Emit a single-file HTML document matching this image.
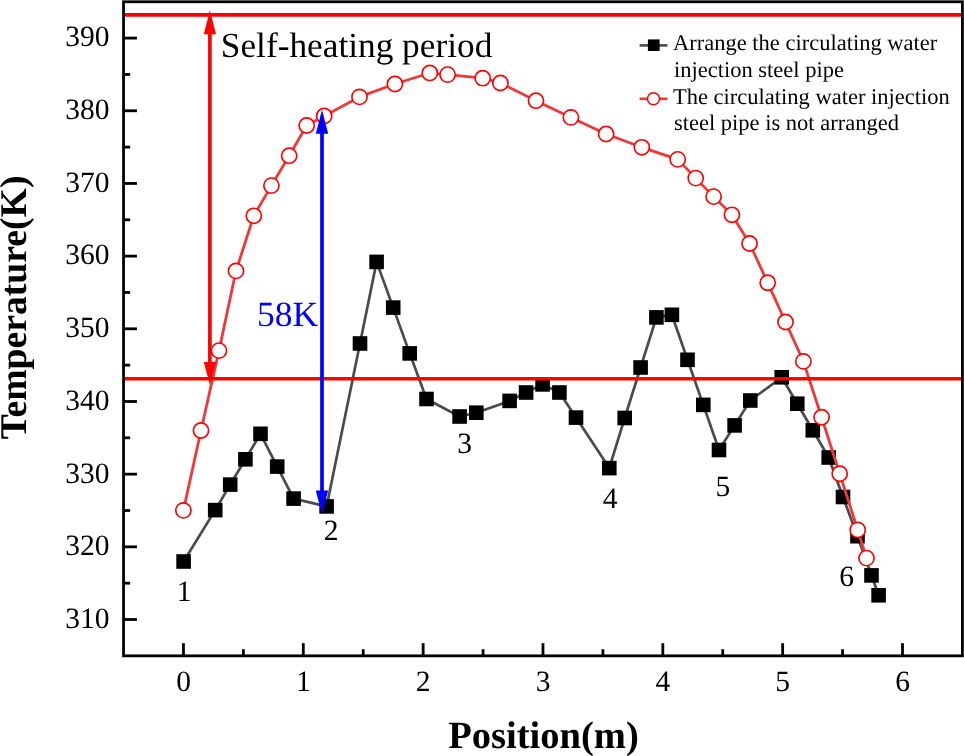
<!DOCTYPE html><html><head><meta charset="utf-8"><style>html,body{margin:0;padding:0;background:#fff;}svg{display:block;will-change:transform;}text{font-family:"Liberation Serif",serif;text-rendering:geometricPrecision;}</style></head><body>
<svg width="964" height="756" viewBox="0 0 964 756">
<rect width="964" height="756" fill="#fff"/>
<polyline points="183.6,561.5 215.2,510.1 230.2,484.6 245.4,459.3 260.5,433.8 277.2,466.6 293.6,498.6 326.6,506.4 360.0,343.5 376.6,261.9 393.2,307.6 409.7,353.4 426.5,399.0 459.6,416.5 476.3,412.7 509.6,400.9 526.1,392.5 542.6,384.4 559.4,392.5 576.0,417.6 609.3,468.1 624.7,418.0 640.6,367.5 656.4,317.4 671.9,314.8 687.5,359.8 703.3,404.9 719.0,450.0 734.6,425.4 750.3,400.5 781.7,377.3 797.3,403.7 812.8,430.3 828.7,457.5 843.0,497.0 857.5,536.2 871.5,575.4 878.6,595.3" fill="none" stroke="#4b4b4b" stroke-width="2.7" stroke-linejoin="round"/>
<rect x="176.30" y="554.20" width="14.6" height="14.6" fill="#000"/>
<rect x="207.90" y="502.80" width="14.6" height="14.6" fill="#000"/>
<rect x="222.90" y="477.30" width="14.6" height="14.6" fill="#000"/>
<rect x="238.10" y="452.00" width="14.6" height="14.6" fill="#000"/>
<rect x="253.20" y="426.50" width="14.6" height="14.6" fill="#000"/>
<rect x="269.90" y="459.30" width="14.6" height="14.6" fill="#000"/>
<rect x="286.30" y="491.30" width="14.6" height="14.6" fill="#000"/>
<rect x="319.30" y="499.10" width="14.6" height="14.6" fill="#000"/>
<rect x="352.70" y="336.20" width="14.6" height="14.6" fill="#000"/>
<rect x="369.30" y="254.60" width="14.6" height="14.6" fill="#000"/>
<rect x="385.90" y="300.30" width="14.6" height="14.6" fill="#000"/>
<rect x="402.40" y="346.10" width="14.6" height="14.6" fill="#000"/>
<rect x="419.20" y="391.70" width="14.6" height="14.6" fill="#000"/>
<rect x="452.30" y="409.20" width="14.6" height="14.6" fill="#000"/>
<rect x="469.00" y="405.40" width="14.6" height="14.6" fill="#000"/>
<rect x="502.30" y="393.60" width="14.6" height="14.6" fill="#000"/>
<rect x="518.80" y="385.20" width="14.6" height="14.6" fill="#000"/>
<rect x="535.30" y="377.10" width="14.6" height="14.6" fill="#000"/>
<rect x="552.10" y="385.20" width="14.6" height="14.6" fill="#000"/>
<rect x="568.70" y="410.30" width="14.6" height="14.6" fill="#000"/>
<rect x="602.00" y="460.80" width="14.6" height="14.6" fill="#000"/>
<rect x="617.40" y="410.70" width="14.6" height="14.6" fill="#000"/>
<rect x="633.30" y="360.20" width="14.6" height="14.6" fill="#000"/>
<rect x="649.10" y="310.10" width="14.6" height="14.6" fill="#000"/>
<rect x="664.60" y="307.50" width="14.6" height="14.6" fill="#000"/>
<rect x="680.20" y="352.50" width="14.6" height="14.6" fill="#000"/>
<rect x="696.00" y="397.60" width="14.6" height="14.6" fill="#000"/>
<rect x="711.70" y="442.70" width="14.6" height="14.6" fill="#000"/>
<rect x="727.30" y="418.10" width="14.6" height="14.6" fill="#000"/>
<rect x="743.00" y="393.20" width="14.6" height="14.6" fill="#000"/>
<rect x="774.40" y="370.00" width="14.6" height="14.6" fill="#000"/>
<rect x="790.00" y="396.40" width="14.6" height="14.6" fill="#000"/>
<rect x="805.50" y="423.00" width="14.6" height="14.6" fill="#000"/>
<rect x="821.40" y="450.20" width="14.6" height="14.6" fill="#000"/>
<rect x="835.70" y="489.70" width="14.6" height="14.6" fill="#000"/>
<rect x="850.20" y="528.90" width="14.6" height="14.6" fill="#000"/>
<rect x="864.20" y="568.10" width="14.6" height="14.6" fill="#000"/>
<rect x="871.30" y="588.00" width="14.6" height="14.6" fill="#000"/>
<polyline points="183.4,510.4 201.0,430.5 219.0,350.6 236.0,270.9 253.8,215.8 271.4,185.6 289.2,155.7 306.7,125.5 324.2,116.0 359.5,96.9 394.9,84.0 429.8,73.0 447.6,74.6 482.7,78.2 500.4,83.0 536.0,100.7 570.9,117.4 606.1,134.0 641.8,147.3 677.7,159.4 695.7,178.1 713.6,196.6 731.9,214.8 749.6,243.5 767.7,282.7 785.5,322.0 803.4,361.4 821.6,417.3 839.7,473.7 857.7,529.9 866.5,558.1" fill="none" stroke="#ef3838" stroke-width="2.8" stroke-linejoin="round"/>
<circle cx="183.4" cy="510.4" r="7.6" fill="#fff" stroke="#ff0000" stroke-width="1.65"/>
<circle cx="201.0" cy="430.5" r="7.6" fill="#fff" stroke="#ff0000" stroke-width="1.65"/>
<circle cx="219.0" cy="350.6" r="7.6" fill="#fff" stroke="#ff0000" stroke-width="1.65"/>
<circle cx="236.0" cy="270.9" r="7.6" fill="#fff" stroke="#ff0000" stroke-width="1.65"/>
<circle cx="253.8" cy="215.8" r="7.6" fill="#fff" stroke="#ff0000" stroke-width="1.65"/>
<circle cx="271.4" cy="185.6" r="7.6" fill="#fff" stroke="#ff0000" stroke-width="1.65"/>
<circle cx="289.2" cy="155.7" r="7.6" fill="#fff" stroke="#ff0000" stroke-width="1.65"/>
<circle cx="306.7" cy="125.5" r="7.6" fill="#fff" stroke="#ff0000" stroke-width="1.65"/>
<circle cx="324.2" cy="116.0" r="7.6" fill="#fff" stroke="#ff0000" stroke-width="1.65"/>
<circle cx="359.5" cy="96.9" r="7.6" fill="#fff" stroke="#ff0000" stroke-width="1.65"/>
<circle cx="394.9" cy="84.0" r="7.6" fill="#fff" stroke="#ff0000" stroke-width="1.65"/>
<circle cx="429.8" cy="73.0" r="7.6" fill="#fff" stroke="#ff0000" stroke-width="1.65"/>
<circle cx="447.6" cy="74.6" r="7.6" fill="#fff" stroke="#ff0000" stroke-width="1.65"/>
<circle cx="482.7" cy="78.2" r="7.6" fill="#fff" stroke="#ff0000" stroke-width="1.65"/>
<circle cx="500.4" cy="83.0" r="7.6" fill="#fff" stroke="#ff0000" stroke-width="1.65"/>
<circle cx="536.0" cy="100.7" r="7.6" fill="#fff" stroke="#ff0000" stroke-width="1.65"/>
<circle cx="570.9" cy="117.4" r="7.6" fill="#fff" stroke="#ff0000" stroke-width="1.65"/>
<circle cx="606.1" cy="134.0" r="7.6" fill="#fff" stroke="#ff0000" stroke-width="1.65"/>
<circle cx="641.8" cy="147.3" r="7.6" fill="#fff" stroke="#ff0000" stroke-width="1.65"/>
<circle cx="677.7" cy="159.4" r="7.6" fill="#fff" stroke="#ff0000" stroke-width="1.65"/>
<circle cx="695.7" cy="178.1" r="7.6" fill="#fff" stroke="#ff0000" stroke-width="1.65"/>
<circle cx="713.6" cy="196.6" r="7.6" fill="#fff" stroke="#ff0000" stroke-width="1.65"/>
<circle cx="731.9" cy="214.8" r="7.6" fill="#fff" stroke="#ff0000" stroke-width="1.65"/>
<circle cx="749.6" cy="243.5" r="7.6" fill="#fff" stroke="#ff0000" stroke-width="1.65"/>
<circle cx="767.7" cy="282.7" r="7.6" fill="#fff" stroke="#ff0000" stroke-width="1.65"/>
<circle cx="785.5" cy="322.0" r="7.6" fill="#fff" stroke="#ff0000" stroke-width="1.65"/>
<circle cx="803.4" cy="361.4" r="7.6" fill="#fff" stroke="#ff0000" stroke-width="1.65"/>
<circle cx="821.6" cy="417.3" r="7.6" fill="#fff" stroke="#ff0000" stroke-width="1.65"/>
<circle cx="839.7" cy="473.7" r="7.6" fill="#fff" stroke="#ff0000" stroke-width="1.65"/>
<circle cx="857.7" cy="529.9" r="7.6" fill="#fff" stroke="#ff0000" stroke-width="1.65"/>
<circle cx="866.5" cy="558.1" r="7.6" fill="#fff" stroke="#ff0000" stroke-width="1.65"/>
<line x1="123.5" y1="14.9" x2="962.4" y2="14.9" stroke="#ff0000" stroke-width="3.6"/>
<line x1="123.5" y1="378.7" x2="962.4" y2="378.7" stroke="#ff0000" stroke-width="3.6"/>
<line x1="209.9" y1="33.3" x2="209.9" y2="363" stroke="#ff0000" stroke-width="3.7"/><polygon points="209.9,10.3 203.8,34.3 216.0,34.3" fill="#ff0000"/><polygon points="209.9,385 203.8,362 216.0,362" fill="#ff0000"/>
<line x1="322.0" y1="132.7" x2="322.0" y2="491.6" stroke="#0000ff" stroke-width="3.7"/><polygon points="322.0,109.7 315.8,133.7 328.2,133.7" fill="#0000ff"/><polygon points="322.0,514.6 315.8,490.6 328.2,490.6" fill="#0000ff"/>
<rect x="123.54" y="1.76" width="838.88" height="654.07" fill="none" stroke="#000" stroke-width="2.8"/>
<line x1="123.54" y1="619.50" x2="136.94" y2="619.50" stroke="#000" stroke-width="2.8"/>
<line x1="123.54" y1="583.16" x2="130.14" y2="583.16" stroke="#000" stroke-width="2.8"/>
<line x1="123.54" y1="546.83" x2="136.94" y2="546.83" stroke="#000" stroke-width="2.8"/>
<line x1="123.54" y1="510.49" x2="130.14" y2="510.49" stroke="#000" stroke-width="2.8"/>
<line x1="123.54" y1="474.15" x2="136.94" y2="474.15" stroke="#000" stroke-width="2.8"/>
<line x1="123.54" y1="437.81" x2="130.14" y2="437.81" stroke="#000" stroke-width="2.8"/>
<line x1="123.54" y1="401.48" x2="136.94" y2="401.48" stroke="#000" stroke-width="2.8"/>
<line x1="123.54" y1="365.14" x2="130.14" y2="365.14" stroke="#000" stroke-width="2.8"/>
<line x1="123.54" y1="328.80" x2="136.94" y2="328.80" stroke="#000" stroke-width="2.8"/>
<line x1="123.54" y1="292.46" x2="130.14" y2="292.46" stroke="#000" stroke-width="2.8"/>
<line x1="123.54" y1="256.12" x2="136.94" y2="256.12" stroke="#000" stroke-width="2.8"/>
<line x1="123.54" y1="219.79" x2="130.14" y2="219.79" stroke="#000" stroke-width="2.8"/>
<line x1="123.54" y1="183.45" x2="136.94" y2="183.45" stroke="#000" stroke-width="2.8"/>
<line x1="123.54" y1="147.11" x2="130.14" y2="147.11" stroke="#000" stroke-width="2.8"/>
<line x1="123.54" y1="110.78" x2="136.94" y2="110.78" stroke="#000" stroke-width="2.8"/>
<line x1="123.54" y1="74.44" x2="130.14" y2="74.44" stroke="#000" stroke-width="2.8"/>
<line x1="123.54" y1="38.10" x2="136.94" y2="38.10" stroke="#000" stroke-width="2.8"/>
<line x1="183.46" y1="655.84" x2="183.46" y2="643.14" stroke="#000" stroke-width="2.8"/>
<line x1="243.38" y1="655.84" x2="243.38" y2="649.24" stroke="#000" stroke-width="2.8"/>
<line x1="303.30" y1="655.84" x2="303.30" y2="643.14" stroke="#000" stroke-width="2.8"/>
<line x1="363.22" y1="655.84" x2="363.22" y2="649.24" stroke="#000" stroke-width="2.8"/>
<line x1="423.14" y1="655.84" x2="423.14" y2="643.14" stroke="#000" stroke-width="2.8"/>
<line x1="483.06" y1="655.84" x2="483.06" y2="649.24" stroke="#000" stroke-width="2.8"/>
<line x1="542.98" y1="655.84" x2="542.98" y2="643.14" stroke="#000" stroke-width="2.8"/>
<line x1="602.90" y1="655.84" x2="602.90" y2="649.24" stroke="#000" stroke-width="2.8"/>
<line x1="662.82" y1="655.84" x2="662.82" y2="643.14" stroke="#000" stroke-width="2.8"/>
<line x1="722.74" y1="655.84" x2="722.74" y2="649.24" stroke="#000" stroke-width="2.8"/>
<line x1="782.66" y1="655.84" x2="782.66" y2="643.14" stroke="#000" stroke-width="2.8"/>
<line x1="842.58" y1="655.84" x2="842.58" y2="649.24" stroke="#000" stroke-width="2.8"/>
<line x1="902.50" y1="655.84" x2="902.50" y2="643.14" stroke="#000" stroke-width="2.8"/>
<text x="109.5" y="627.8" font-size="29.5" text-anchor="end">310</text>
<text x="109.5" y="555.1" font-size="29.5" text-anchor="end">320</text>
<text x="109.5" y="482.5" font-size="29.5" text-anchor="end">330</text>
<text x="109.5" y="409.8" font-size="29.5" text-anchor="end">340</text>
<text x="109.5" y="337.1" font-size="29.5" text-anchor="end">350</text>
<text x="109.5" y="264.4" font-size="29.5" text-anchor="end">360</text>
<text x="109.5" y="191.8" font-size="29.5" text-anchor="end">370</text>
<text x="109.5" y="119.1" font-size="29.5" text-anchor="end">380</text>
<text x="109.5" y="46.4" font-size="29.5" text-anchor="end">390</text>
<text x="183.5" y="690.6" font-size="29.5" text-anchor="middle">0</text>
<text x="303.3" y="690.6" font-size="29.5" text-anchor="middle">1</text>
<text x="423.1" y="690.6" font-size="29.5" text-anchor="middle">2</text>
<text x="543.0" y="690.6" font-size="29.5" text-anchor="middle">3</text>
<text x="662.8" y="690.6" font-size="29.5" text-anchor="middle">4</text>
<text x="782.7" y="690.6" font-size="29.5" text-anchor="middle">5</text>
<text x="902.5" y="690.6" font-size="29.5" text-anchor="middle">6</text>
<text x="543.5" y="748.4" font-size="38.6" font-weight="bold" text-anchor="middle">Position(m)</text>
<text transform="translate(25.9,307.4) rotate(-90)" x="0" y="0" font-size="37.7" font-weight="bold" text-anchor="middle">Temperature(K)</text>
<text x="220.8" y="57" font-size="35.3">Self-heating period</text>
<text x="257" y="326.1" font-size="35.5" fill="#0000ff">58K</text>
<text x="184" y="600.5" font-size="29.5" text-anchor="middle">1</text>
<text x="331" y="539.7" font-size="29.5" text-anchor="middle">2</text>
<text x="464.5" y="452.6" font-size="29.5" text-anchor="middle">3</text>
<text x="610" y="508.1" font-size="29.5" text-anchor="middle">4</text>
<text x="722.8" y="495.9" font-size="29.5" text-anchor="middle">5</text>
<text x="846.5" y="586.2" font-size="29.5" text-anchor="middle">6</text>
<line x1="639.6" y1="45.4" x2="667.5" y2="45.4" stroke="#4b4b4b" stroke-width="2.6"/>
<rect x="647.9" y="39.4" width="11.7" height="11.6" fill="#000"/>
<line x1="639.6" y1="98.8" x2="667.5" y2="98.8" stroke="#ef3838" stroke-width="2.6"/>
<circle cx="653.5" cy="98.8" r="6.0" fill="#fff" stroke="#ff0000" stroke-width="1.5"/>
<text x="673" y="49.5" font-size="22.5">Arrange the circulating water</text>
<text x="674" y="76.8" font-size="22.5">injection steel pipe</text>
<text x="673" y="103.7" font-size="22.5">The circulating water injection</text>
<text x="674" y="129.9" font-size="22.5">steel pipe is not arranged</text>
</svg></body></html>
